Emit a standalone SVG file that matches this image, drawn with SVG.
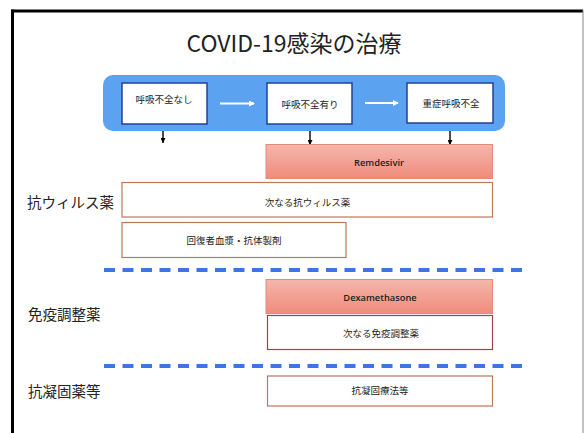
<svg xmlns="http://www.w3.org/2000/svg" width="585" height="433" viewBox="0 0 585 433">
<style>
  .t { font-family: "Noto Sans CJK JP", "Noto Sans", sans-serif; fill: #222; text-anchor: middle; dominant-baseline: central; }
  .sm { font-size: 9.5px; }
  .en { font-family: "Open Sans", "Noto Sans", sans-serif; font-size: 9.3px; font-weight: 600; fill: #222; text-anchor: middle; dominant-baseline: central; }
  .lbl { font-family: "Noto Sans CJK JP", "Noto Sans", sans-serif; font-size: 14.5px; fill: #222; dominant-baseline: central; }
  .stage { fill: #fff; stroke: #23409a; stroke-width: 1.5; }
  .plain { fill: #fff; stroke: #b97a5a; stroke-width: 1.2; }
  .drug { fill: url(#pink); stroke: #e58a78; stroke-width: 1; }
  .dash { stroke: #3f74e8; stroke-width: 4; stroke-dasharray: 11 7.5; fill: none; }
  .wa { stroke: #fff; stroke-width: 2; fill: none; marker-end: url(#wh); }
  .da { stroke: #000; stroke-width: 1.4; fill: none; marker-end: url(#bh); }
</style>
<defs>
  <linearGradient id="pink" x1="0" y1="0" x2="0" y2="1">
    <stop offset="0" stop-color="#f6b6ad"/>
    <stop offset="1" stop-color="#ef8b7a"/>
  </linearGradient>
  <marker id="wh" markerWidth="6" markerHeight="6" refX="5" refY="3" orient="auto" markerUnits="userSpaceOnUse">
    <path d="M0,0 L6,3 L0,6 Z" fill="#fff"/>
  </marker>
  <marker id="bh" markerWidth="6" markerHeight="5" refX="5" refY="2.5" orient="auto" markerUnits="userSpaceOnUse">
    <path d="M0,0 L5,2.5 L0,5 Z" fill="#000"/>
  </marker>
</defs>
<rect x="0" y="0" width="585" height="433" fill="#fff"/>
<g id="frame">
  <line x1="11" y1="11" x2="583" y2="11" stroke="#000" stroke-width="3"/>
  <line x1="12.5" y1="9.5" x2="12.5" y2="433" stroke="#000" stroke-width="3"/>
  <line x1="583" y1="10" x2="583" y2="433" stroke="#888" stroke-width="1"/>
</g>
<g id="title"><text class="t" x="294" y="42" font-size="23">COVID-19感染の治療</text></g>
<g id="stages-bg"><rect x="103" y="75" width="402" height="56" rx="10" fill="#5ba3f1"/></g>
<g id="stage1"><rect class="stage" x="122" y="83" width="85" height="41"/><text class="t sm" x="164" y="99">呼吸不全なし</text></g>
<g id="stage2"><rect class="stage" x="267" y="83" width="85" height="41"/><text class="t sm" x="310" y="103.5">呼吸不全有り</text></g>
<g id="stage3"><rect class="stage" x="407" y="83" width="86" height="40"/><text class="t sm" x="451" y="103">重症呼吸不全</text></g>
<g id="connectors">
  <line class="wa" x1="220" y1="103.5" x2="254" y2="103.5"/>
  <line class="wa" x1="365" y1="103" x2="398" y2="103"/>
  <line class="da" x1="163" y1="131" x2="163" y2="143"/>
  <line class="da" x1="310" y1="131" x2="310" y2="145"/>
  <line class="da" x1="450" y1="131" x2="450" y2="145"/>
</g>
<g id="remdesivir"><rect class="drug" x="266" y="144.5" width="226.5" height="34"/><text class="en" x="379" y="162.5">Remdesivir</text></g>
<g id="label-antiviral"><text class="lbl" x="27" y="201">抗ウィルス薬</text></g>
<g id="next-antiviral"><rect class="plain" x="122" y="182.5" width="370.5" height="34.5"/><text class="t sm" x="307.5" y="201.5">次なる抗ウィルス薬</text></g>
<g id="plasma"><rect class="plain" x="122" y="222.5" width="224" height="35"/><text class="t sm" x="234" y="240">回復者血漿・抗体製剤</text></g>
<g id="sep1"><line class="dash" x1="104" y1="270" x2="522" y2="270"/></g>
<g id="dexamethasone"><rect class="drug" x="266" y="279.5" width="226.5" height="34"/><text class="en" x="380" y="297">Dexamethasone</text></g>
<g id="label-immuno"><text class="lbl" x="28" y="313">免疫調整薬</text></g>
<g id="next-immuno"><rect x="267.5" y="315.5" width="225" height="34" fill="#fff" stroke="#a8404a" stroke-width="1.2"/><text class="t sm" x="381" y="332.5">次なる免疫調整薬</text></g>
<g id="sep2"><line class="dash" x1="104" y1="366" x2="522" y2="366"/></g>
<g id="label-anticoag"><text class="lbl" x="28" y="390">抗凝固薬等</text></g>
<g id="anticoag"><rect class="plain" x="267.5" y="376" width="225" height="30"/><text class="t sm" x="380" y="390">抗凝固療法等</text></g>
</svg>
